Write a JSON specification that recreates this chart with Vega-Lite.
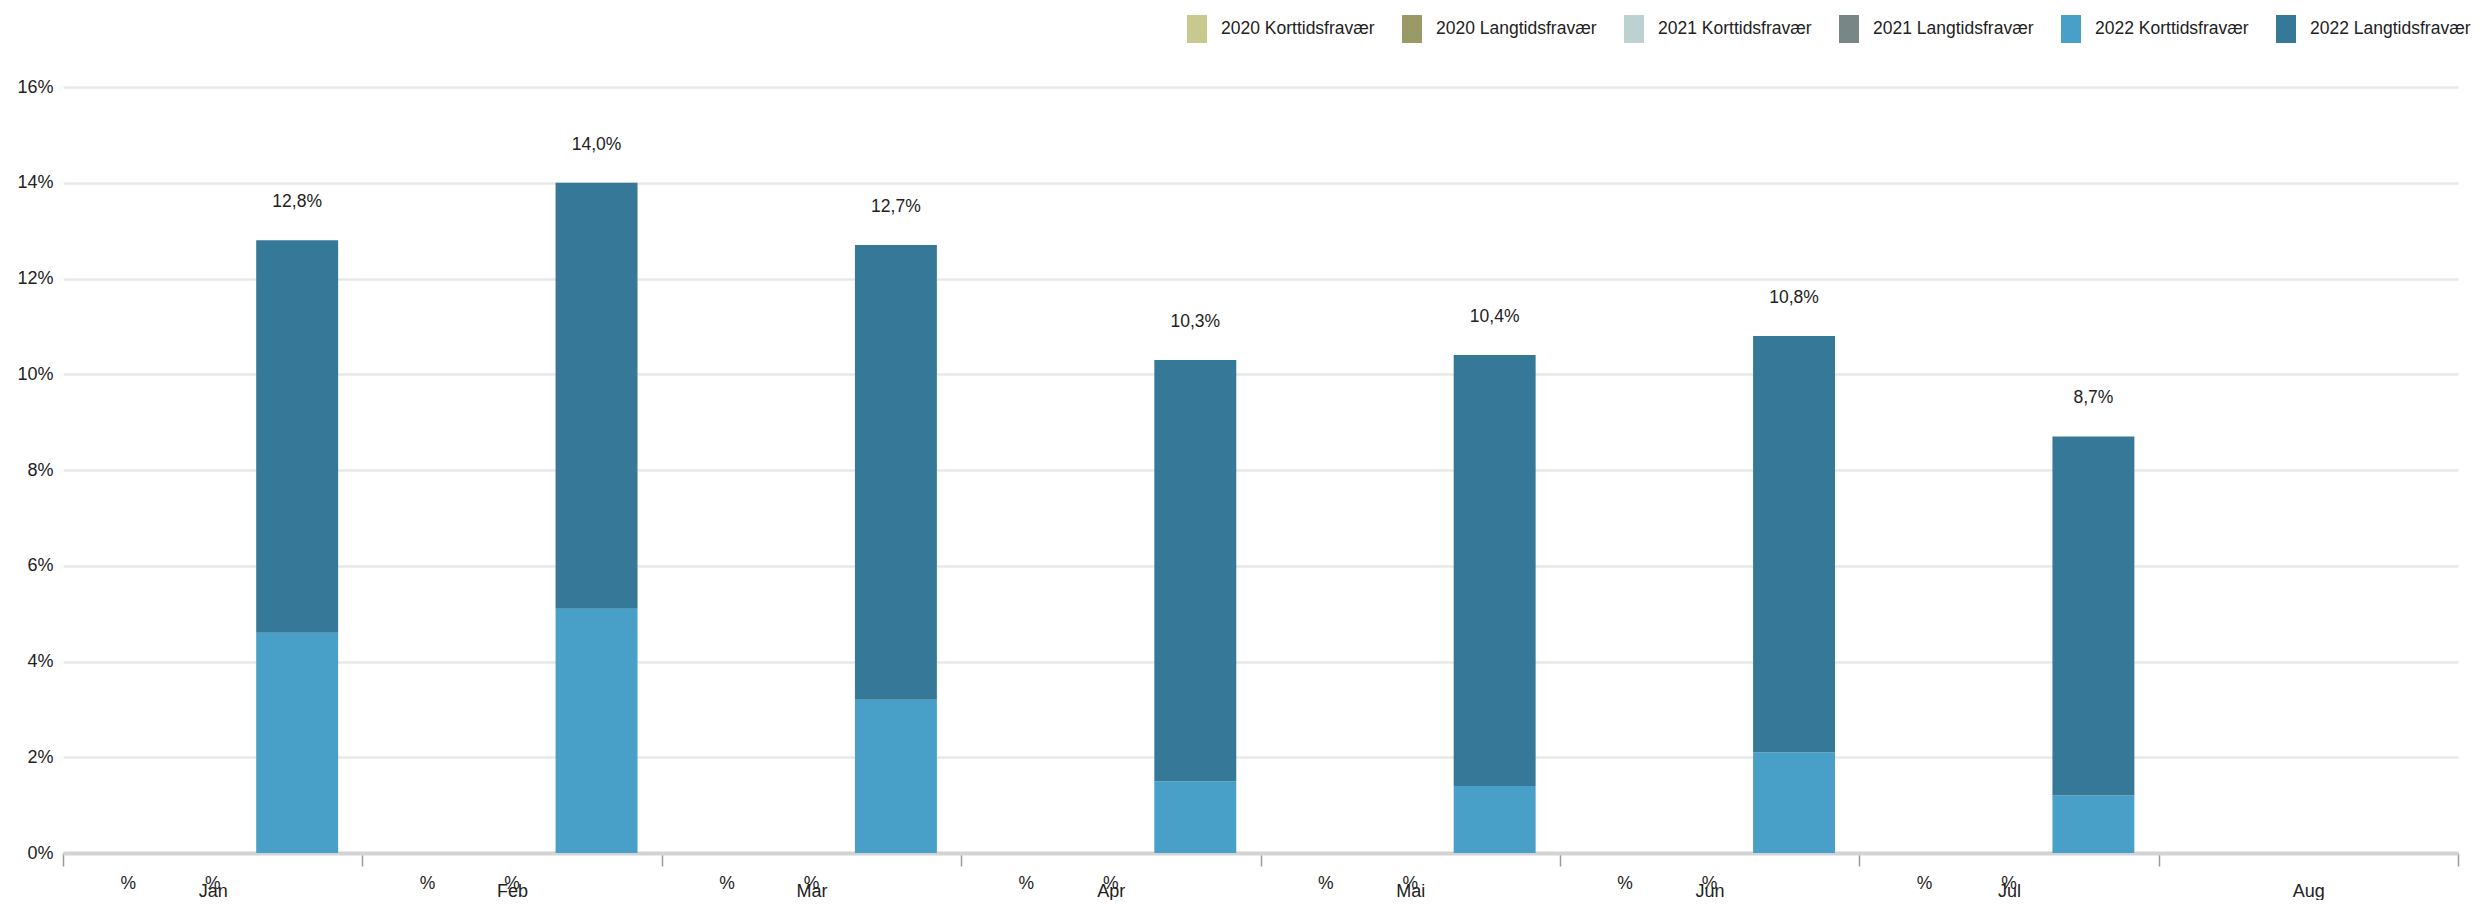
{
  "$schema": "https://vega.github.io/schema/vega-lite/v6.json",
  "width": 2395,
  "height": 766,
  "padding": {"left": 16, "top": 15, "right": 0, "bottom": 0},
  "background": "white",
  "config": {
    "font": "Liberation Sans, Arial, sans-serif",
    "view": {"stroke": null},
    "text": {"font": "Liberation Sans, Arial, sans-serif"}
  },
  "datasets": {
    "bars": [
      {"month": "Jan", "year": "2022", "type": "Korttidsfravær", "series": "2022 Korttidsfravær", "value": 4.6},
      {"month": "Jan", "year": "2022", "type": "Langtidsfravær", "series": "2022 Langtidsfravær", "value": 8.2},
      {"month": "Feb", "year": "2022", "type": "Korttidsfravær", "series": "2022 Korttidsfravær", "value": 5.1},
      {"month": "Feb", "year": "2022", "type": "Langtidsfravær", "series": "2022 Langtidsfravær", "value": 8.9},
      {"month": "Mar", "year": "2022", "type": "Korttidsfravær", "series": "2022 Korttidsfravær", "value": 3.2},
      {"month": "Mar", "year": "2022", "type": "Langtidsfravær", "series": "2022 Langtidsfravær", "value": 9.5},
      {"month": "Apr", "year": "2022", "type": "Korttidsfravær", "series": "2022 Korttidsfravær", "value": 1.5},
      {"month": "Apr", "year": "2022", "type": "Langtidsfravær", "series": "2022 Langtidsfravær", "value": 8.8},
      {"month": "Mai", "year": "2022", "type": "Korttidsfravær", "series": "2022 Korttidsfravær", "value": 1.4},
      {"month": "Mai", "year": "2022", "type": "Langtidsfravær", "series": "2022 Langtidsfravær", "value": 9.0},
      {"month": "Jun", "year": "2022", "type": "Korttidsfravær", "series": "2022 Korttidsfravær", "value": 2.1},
      {"month": "Jun", "year": "2022", "type": "Langtidsfravær", "series": "2022 Langtidsfravær", "value": 8.7},
      {"month": "Jul", "year": "2022", "type": "Korttidsfravær", "series": "2022 Korttidsfravær", "value": 1.2},
      {"month": "Jul", "year": "2022", "type": "Langtidsfravær", "series": "2022 Langtidsfravær", "value": 7.5}
    ],
    "totals": [
      {"month": "Jan", "year": "2020", "total": null, "label": "%"},
      {"month": "Jan", "year": "2021", "total": null, "label": "%"},
      {"month": "Jan", "year": "2022", "total": 12.8, "label": "12,8%"},
      {"month": "Feb", "year": "2020", "total": null, "label": "%"},
      {"month": "Feb", "year": "2021", "total": null, "label": "%"},
      {"month": "Feb", "year": "2022", "total": 14.0, "label": "14,0%"},
      {"month": "Mar", "year": "2020", "total": null, "label": "%"},
      {"month": "Mar", "year": "2021", "total": null, "label": "%"},
      {"month": "Mar", "year": "2022", "total": 12.7, "label": "12,7%"},
      {"month": "Apr", "year": "2020", "total": null, "label": "%"},
      {"month": "Apr", "year": "2021", "total": null, "label": "%"},
      {"month": "Apr", "year": "2022", "total": 10.3, "label": "10,3%"},
      {"month": "Mai", "year": "2020", "total": null, "label": "%"},
      {"month": "Mai", "year": "2021", "total": null, "label": "%"},
      {"month": "Mai", "year": "2022", "total": 10.4, "label": "10,4%"},
      {"month": "Jun", "year": "2020", "total": null, "label": "%"},
      {"month": "Jun", "year": "2021", "total": null, "label": "%"},
      {"month": "Jun", "year": "2022", "total": 10.8, "label": "10,8%"},
      {"month": "Jul", "year": "2020", "total": null, "label": "%"},
      {"month": "Jul", "year": "2021", "total": null, "label": "%"},
      {"month": "Jul", "year": "2022", "total": 8.7, "label": "8,7%"}
    ]
  },
  "encoding": {
    "x": {
      "field": "month",
      "type": "nominal",
      "sort": null,
      "scale": {"domain": ["Jan", "Feb", "Mar", "Apr", "Mai", "Jun", "Jul", "Aug"], "paddingInner": 0, "paddingOuter": 0},
      "axis": {
        "title": null,
        "labelAngle": 0,
        "tickBand": "extent",
        "domainColor": "#d3d3d3",
        "domainWidth": 4,
        "tickColor": "#9a9a9a",
        "tickSize": 13,
        "tickWidth": 1.5,
        "labelPadding": 16,
        "labelFontSize": 18,
        "labelColor": "#222222",
        "grid": false
      }
    },
    "xOffset": {
      "field": "year",
      "type": "nominal",
      "scale": {"domain": ["2020", "2021", "2022"], "paddingInner": 0.03, "paddingOuter": 0.287}
    }
  },
  "layer": [
    {
      "data": {"name": "bars"},
      "mark": {"type": "bar"},
      "encoding": {
        "y": {
          "field": "value",
          "type": "quantitative",
          "stack": "zero",
          "title": null,
          "scale": {"domain": [0, 16], "nice": false},
          "axis": {
            "title": null,
            "values": [0, 2, 4, 6, 8, 10, 12, 14, 16],
            "labelExpr": "datum.value + '%'",
            "domain": false,
            "ticks": false,
            "gridColor": "#e8e8e8",
            "gridWidth": 2.5,
            "labelPadding": 10,
            "labelFontSize": 18,
            "labelColor": "#222222"
          }
        },
        "color": {
          "field": "series",
          "type": "nominal",
          "scale": {
            "domain": ["2020 Korttidsfravær", "2020 Langtidsfravær", "2021 Korttidsfravær", "2021 Langtidsfravær", "2022 Korttidsfravær", "2022 Langtidsfravær"],
            "range": ["#c8c98f", "#9a9a66", "#bdd1d0", "#788785", "#48a0c9", "#367897"]
          },
          "legend": {
            "orient": "none",
            "legendX": 1120,
            "legendY": -72,
            "direction": "horizontal",
            "columns": 6,
            "title": null,
            "symbolType": "M-0.714,-1H0.714V1H-0.714Z",
            "symbolSize": 784,
            "symbolStrokeWidth": 0,
            "labelFontSize": 17.5,
            "labelOffset": 10,
            "columnPadding": 23,
            "labelColor": "#222222",
            "labelLimit": 300
          }
        },
        "order": {"field": "type", "sort": "ascending"}
      }
    },
    {
      "data": {"name": "totals"},
      "transform": [{"filter": "datum.year == '2022'"}],
      "mark": {"type": "text", "dy": -38, "baseline": "middle", "fontSize": 17.5, "color": "#222222"},
      "encoding": {
        "y": {"field": "total", "type": "quantitative", "title": null},
        "text": {"field": "label"}
      }
    },
    {
      "data": {"name": "totals"},
      "transform": [{"filter": "datum.year != '2022'"}],
      "mark": {"type": "text", "dy": 31, "baseline": "middle", "fontSize": 17.5, "color": "#222222"},
      "encoding": {
        "y": {"datum": 0, "title": null},
        "text": {"field": "label"}
      }
    }
  ]
}
